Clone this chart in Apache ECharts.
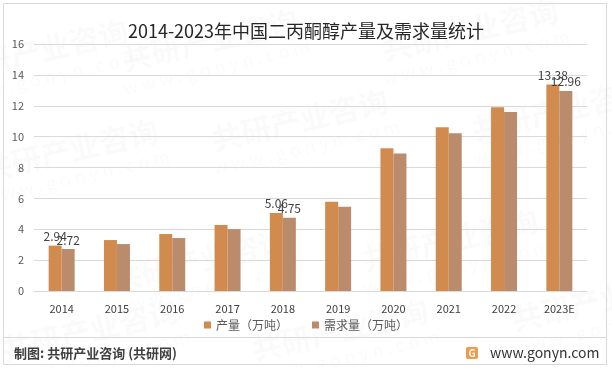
<!DOCTYPE html>
<html><head><meta charset="utf-8">
<script src="https://cdn.jsdelivr.net/npm/echarts@6/dist/echarts.min.js"></script>
<style>html,body{margin:0;padding:0;background:#fff}#c{width:612px;height:368px}</style>
</head><body><div id="c"></div>
<script>
const categories = ['2014','2015','2016','2017','2018','2019','2020','2021','2022','2023E'];
const production = [2.94,3.30,3.69,4.27,5.06,5.78,9.24,10.61,11.91,13.38];
const demand = [2.72,3.04,3.43,4.01,4.75,5.46,8.91,10.22,11.59,12.96];
const labelIndices = [0,4,9];
const yTicks = [0,2,4,6,8,10,12,14,16];
const seriesNames = ['产量（万吨）','需求量（万吨）'];
const titleText = '2014-2023年中国二丙酮醇产量及需求量统计';
const sourceText = '制图: 共研产业咨询 (共研网)';
const siteText = 'www.gonyn.com';

const font = '"Noto Sans CJK SC", "Noto Sans", sans-serif';
function withLabels(arr){
  return arr.map((v,i)=>({value:v,label:{show:labelIndices.includes(i)}}));
}
const wm = [];
[[70,150],[300,120],[560,110],[200,260],[450,240],[90,330],[340,330],[600,300],[470,30],[210,40],[40,50]].forEach(p=>{
  wm.push({type:'group',x:p[0],y:p[1],rotation:Math.PI/14,silent:true,z:-1,children:[
    {type:'text',style:{text:'共研产业咨询',x:0,y:0,fill:'rgba(0,0,0,0.018)',font:'bold 30px '+font,align:'center',verticalAlign:'middle'}},
    {type:'text',style:{text:'w w w . g o n y n . c o m',x:0,y:28,fill:'rgba(0,0,0,0.018)',font:'18px '+font,align:'center',verticalAlign:'middle'}}
  ]});
});
const chart = echarts.init(document.getElementById('c'));
chart.setOption({
  animation:false,
  title:{text:titleText,left:'center',top:17,textStyle:{fontFamily:font,fontSize:18,fontWeight:'normal',color:'#262626'}},
  grid:{left:34,right:25,top:44,bottom:77},
  legend:{data:seriesNames,bottom:32,itemWidth:7,itemHeight:7,itemGap:24,icon:'rect',textStyle:{fontFamily:font,fontSize:12,color:'#595959'}},
  xAxis:{type:'category',data:categories,axisLine:{show:true,lineStyle:{color:'#d9d9d9'}},axisTick:{show:false},
    axisLabel:{color:'#404040',fontSize:11,fontFamily:font,margin:12}},
  yAxis:{type:'value',min:yTicks[0],max:yTicks[yTicks.length-1],interval:2,
    axisLabel:{color:'#595959',fontSize:11,fontFamily:font,margin:10},
    splitLine:{lineStyle:{color:'#d9d9d9'}},axisLine:{show:false},axisTick:{show:false}},
  series:[
    {name:seriesNames[0],type:'bar',data:withLabels(production),barGap:'0%',barCategoryGap:'53%',
     itemStyle:{color:'#D28B4E'},label:{position:'top',distance:3,color:'#404040',fontSize:12,fontFamily:font}},
    {name:seriesNames[1],type:'bar',data:withLabels(demand),
     itemStyle:{color:'#BA8C6C'},label:{position:'top',distance:3,color:'#404040',fontSize:12,fontFamily:font}}
  ],
  graphic:[
    ...wm,
    {type:'rect',shape:{x:3.5,y:3.5,width:603,height:361},style:{fill:'none',stroke:'#d9d9d9',lineWidth:1},silent:true},
    {type:'line',shape:{x1:3.5,y1:337.5,x2:606.5,y2:337.5},style:{stroke:'#d9d9d9',lineWidth:1},silent:true},
    {type:'text',style:{text:sourceText,x:14,y:353,fill:'#404040',font:'bold 13px '+font,verticalAlign:'middle'}},
    {type:'rect',shape:{x:466,y:347,width:12,height:12,r:2},style:{fill:'#F39A4A'}},
    {type:'text',style:{text:'G',x:472,y:353.5,fill:'#fff',font:'bold 10px '+font,align:'center',verticalAlign:'middle'}},
    {type:'text',style:{text:siteText,x:490,y:353,fill:'#333',font:'14px '+font,verticalAlign:'middle'}}
  ]
});
</script></body></html>
